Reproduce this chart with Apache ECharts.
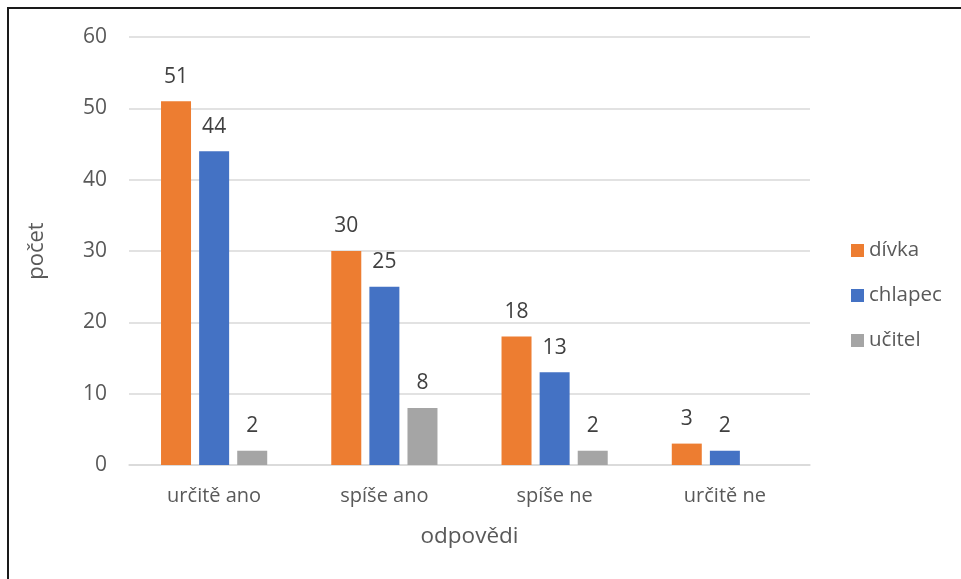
<!DOCTYPE html>
<html>
<head>
<meta charset="utf-8">
<script src="https://cdn.jsdelivr.net/npm/echarts@6/dist/echarts.min.js"></script>
<style>
  html, body { margin: 0; padding: 0; background: #fff; }
  #chart { width: 961px; height: 579px; }
</style>
</head>
<body>
<div id="chart"></div>
<script>
const categories = ['určitě ano', 'spíše ano', 'spíše ne', 'určitě ne'];
const divka = [51, 30, 18, 3];
const chlapec = [44, 25, 13, 2];
const ucitel = [2, 8, 2, null];
const yTicks = { min: 0, max: 60, interval: 10 };

const FONT = '"Open Sans", "Liberation Sans", sans-serif';
const TEXT = '#595959';

function barSeries(name, data, color) {
  return {
    name: name,
    type: 'bar',
    data: data,
    barWidth: 30,
    barGap: '27%',
    itemStyle: { color: color },
    label: {
      show: true,
      position: 'top',
      distance: 14,
      color: '#404040',
      fontSize: 21,
      fontFamily: FONT
    }
  };
}

const chart = echarts.init(document.getElementById('chart'), null, { renderer: 'canvas' });
chart.setOption({
  animation: false,
  backgroundColor: '#fff',
  textStyle: { fontFamily: FONT },
  graphic: [{
    type: 'rect',
    shape: { x: 8, y: 8, width: 1200, height: 1200 },
    style: { fill: 'none', stroke: '#1a1a1a', lineWidth: 2 },
    silent: true
  }],
  grid: { left: 129, right: 151, top: 37, bottom: 114 },
  legend: {
    orient: 'vertical',
    left: 846,
    top: 235,
    itemWidth: 13,
    itemHeight: 13,
    itemGap: 24,
    icon: 'rect',
    textStyle: { color: TEXT, fontSize: 20.5, fontFamily: FONT }
  },
  xAxis: {
    type: 'category',
    data: categories,
    name: 'odpovědi',
    nameLocation: 'middle',
    nameGap: 60,
    nameTextStyle: { color: TEXT, fontSize: 22.5, fontFamily: FONT },
    axisLine: { lineStyle: { color: '#d9d9d9', width: 1.5 } },
    axisTick: { show: false },
    axisLabel: { color: TEXT, fontSize: 20, margin: 21, fontFamily: FONT }
  },
  yAxis: {
    type: 'value',
    min: yTicks.min,
    max: yTicks.max,
    interval: yTicks.interval,
    name: 'počet',
    nameLocation: 'middle',
    nameGap: 81,
    nameTextStyle: { color: TEXT, fontSize: 22, fontFamily: FONT },
    axisLine: { show: false },
    axisTick: { show: false },
    splitLine: { lineStyle: { color: '#d9d9d9', width: 1.5 } },
    axisLabel: { color: TEXT, fontSize: 21, margin: 22, fontFamily: FONT }
  },
  series: [
    barSeries('dívka', divka, '#ED7D31'),
    barSeries('chlapec', chlapec, '#4472C4'),
    barSeries('učitel', ucitel, '#A5A5A5')
  ]
});
</script>
</body>
</html>
